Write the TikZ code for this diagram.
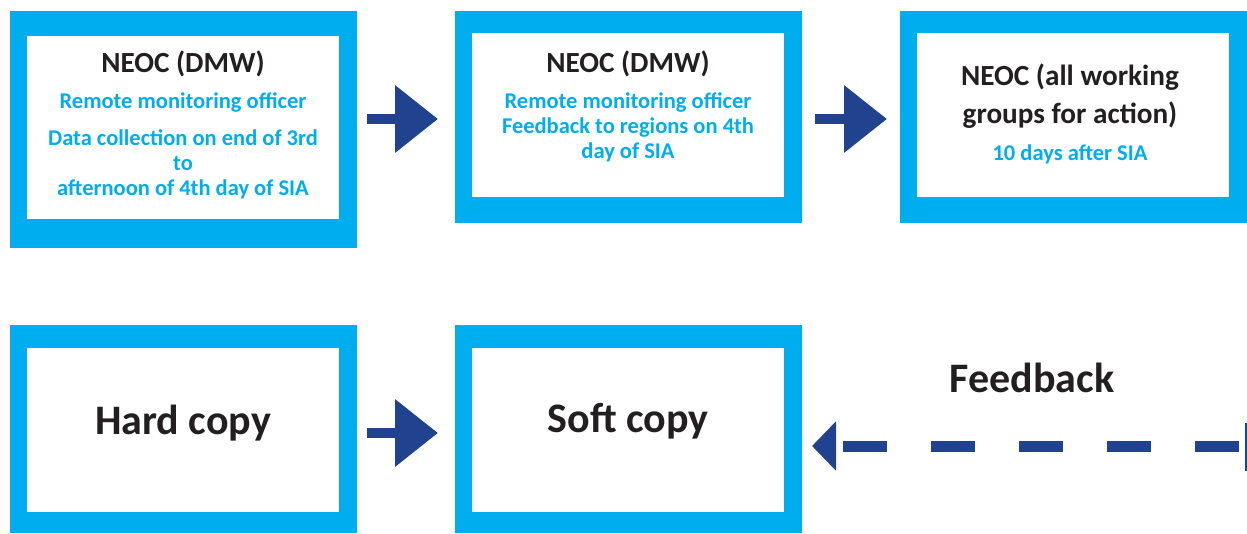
\documentclass[tikz,border=0pt]{standalone}
\usepackage{fontspec}
\setmainfont{Carlito}
\usetikzlibrary{arrows.meta}
\definecolor{frame}{HTML}{00AEEF}
\definecolor{navy}{HTML}{21428E}
\definecolor{ink}{HTML}{231F20}

\tikzset{
  outerbox/.style={fill=frame, inner sep=0, outer sep=0, anchor=north west},
  innerbox/.style={fill=white, inner sep=0, outer sep=0, anchor=north west},
  % multi-line texts are placed by the baseline of their last line
  title/.style={text=ink, font=\bfseries\fontsize{29.2}{38}\selectfont, align=center, inner sep=0, anchor=base},
  detail/.style={text=frame, font=\bfseries\fontsize{22.5}{25}\selectfont, align=center, inner sep=0, anchor=base},
  big/.style={text=ink, font=\bfseries\fontsize{42}{50}\selectfont, inner sep=0, anchor=base},
  flow/.style={draw=navy, line width=10.5pt, -{Triangle[length=43pt,width=65pt]}},
  fb/.style={draw=navy, line width=11pt, dash pattern=on 44pt off 44pt, -{Triangle[length=24pt,width=48pt]}},
}

\begin{document}
\begin{tikzpicture}[x=1pt, y=-1pt]
\useasboundingbox (0,0) rectangle (1247,533);

% top row of framed boxes
\node[outerbox, minimum width=347pt, minimum height=237pt] (o1) at (10,11) {};
\node[innerbox, minimum width=312pt, minimum height=183pt] (i1) at (27,36) {};
\node[outerbox, minimum width=347pt, minimum height=212pt] (o2) at (455,11) {};
\node[innerbox, minimum width=312pt, minimum height=164pt] (i2) at (472,33) {};
\node[outerbox, minimum width=347pt, minimum height=212pt] (o3) at (900,11) {};
\node[innerbox, minimum width=312pt, minimum height=164pt] (i3) at (917,33) {};

% bottom row of framed boxes
\node[outerbox, minimum width=347pt, minimum height=208pt] (o4) at (10,325) {};
\node[innerbox, minimum width=312pt, minimum height=164pt] (i4) at (27,348) {};
\node[outerbox, minimum width=347pt, minimum height=208pt] (o5) at (455,325) {};
\node[innerbox, minimum width=312pt, minimum height=164pt] (i5) at (472,348) {};

% box texts
\node[title] (t1) at (183,72) {NEOC (DMW)};
\node[detail] (d1) at (183,195) {Remote monitoring officer\\[12pt]Data collection on end of 3rd\\to\\afternoon of 4th day of SIA};
\node[title] (t2) at (628,72) {NEOC (DMW)};
\node[detail] (d2) at (628,158) {Remote monitoring officer\\Feedback to regions on 4th\\day of SIA};
\node[title] (t3) at (1070,123) {NEOC (all working\\groups for action)};
\node[detail] (d3) at (1070,160) {10 days after SIA};
\node[big] (t4) at (183,434) {Hard copy};
\node[big] (t5) at (628,432) {Soft copy};
\node[big] (fbl) at (1032,392) {Feedback};

% solid flow arrows
\draw[flow] ([xshift=10pt,yshift=10.5pt]o1.east) -- ([xshift=-17pt,yshift=-2pt]o2.west);
\draw[flow] ([xshift=13pt,yshift=-2pt]o2.east) -- ([xshift=-13pt,yshift=-2pt]o3.west);
\draw[flow] ([xshift=10pt,yshift=-4pt]o4.east) -- ([xshift=-17pt,yshift=-4pt]o5.west);

% dashed feedback arrow
\coordinate (fbstart) at (1239,446);
\draw[fb] (fbstart) -- ([xshift=10pt]o5.east |- fbstart);
\fill[navy] (1244.5,423) rectangle (1247,471);
\end{tikzpicture}
\end{document}
